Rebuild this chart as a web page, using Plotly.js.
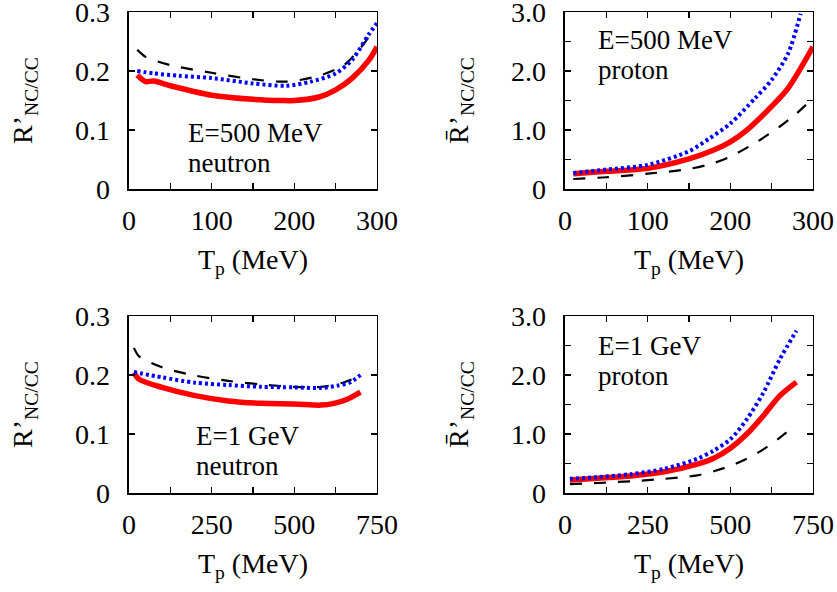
<!DOCTYPE html>
<html>
<head>
<meta charset="utf-8">
<script src="https://cdn.plot.ly/plotly-3.0.1.min.js"></script>
<style>html,body{margin:0;padding:0;background:#fff;}#chart{width:837px;height:592px;}</style>
</head>
<body>
<div id="chart"></div>
<script>
// Panel 1: E=500 MeV neutron
const t1_red = [10, 20, 30, 50, 100, 150, 185, 200, 230, 250, 270, 290, 300];
const r1_red = [0.193, 0.182, 0.183, 0.175, 0.159, 0.152, 0.150, 0.150, 0.156, 0.168, 0.188, 0.218, 0.241];
const t1_blue = [10, 30, 60, 100, 150, 190, 220, 250, 270, 290, 300];
const r1_blue = [0.200, 0.196, 0.192, 0.188, 0.179, 0.175, 0.182, 0.196, 0.219, 0.262, 0.281];
const t1_black = [10, 20, 50, 100, 150, 190, 230, 260, 280, 295];
const r1_black = [0.236, 0.224, 0.210, 0.197, 0.186, 0.182, 0.192, 0.210, 0.239, 0.267];

// Panel 2: E=500 MeV proton
const t2_red = [10, 50, 100, 150, 180, 200, 220, 250, 270, 300];
const r2_red = [0.26, 0.30, 0.35, 0.51, 0.66, 0.80, 1.00, 1.40, 1.71, 2.41];
const t2_blue = [10, 50, 100, 150, 175, 200, 230, 250, 270, 285];
const r2_blue = [0.27, 0.33, 0.41, 0.64, 0.86, 1.11, 1.54, 1.85, 2.30, 2.97];
const t2_black = [10, 50, 100, 150, 180, 200, 230, 260, 280, 300];
const r2_black = [0.17, 0.20, 0.26, 0.34, 0.44, 0.55, 0.78, 1.06, 1.28, 1.54];

// Panel 3: E=1 GeV neutron
const t3_red = [15, 30, 100, 200, 300, 400, 500, 580, 620, 660, 700];
const r3_red = [0.204, 0.193, 0.179, 0.165, 0.156, 0.152, 0.151, 0.149, 0.152, 0.159, 0.171];
const t3_blue = [15, 100, 200, 300, 400, 500, 580, 630, 670, 700];
const r3_blue = [0.205, 0.196, 0.187, 0.183, 0.180, 0.179, 0.178, 0.182, 0.188, 0.200];
const t3_black = [15, 30, 100, 200, 300, 400, 500, 580, 640, 680];
const r3_black = [0.246, 0.232, 0.213, 0.199, 0.190, 0.184, 0.180, 0.180, 0.186, 0.194];

// Panel 4: E=1 GeV proton
const t4_red = [15, 100, 200, 300, 400, 450, 500, 550, 600, 650, 700];
const r4_red = [0.22, 0.25, 0.29, 0.36, 0.49, 0.59, 0.76, 1.00, 1.31, 1.65, 1.88];
const t4_blue = [15, 100, 200, 300, 400, 450, 500, 550, 600, 650, 700];
const r4_blue = [0.24, 0.27, 0.32, 0.41, 0.58, 0.72, 0.91, 1.25, 1.70, 2.27, 2.75];
const t4_black = [15, 100, 200, 300, 400, 450, 500, 550, 600, 650, 675];
const r4_black = [0.15, 0.17, 0.20, 0.24, 0.30, 0.37, 0.46, 0.58, 0.74, 0.94, 1.05];

// Tick labels
const xTickVals500 = [0, 50, 100, 150, 200, 250, 300];
const xTickText500 = ["0", "", "100", "", "200", "", "300"];
const xTickVals1000 = [0, 125, 250, 375, 500, 625, 750];
const xTickText1000 = ["0", "", "250", "", "500", "", "750"];
const yTickValsN = [0, 0.1, 0.2, 0.3];
const yTickTextN = ["0", "0.1", "0.2", "0.3"];
const yTickValsP = [0, 0.5, 1.0, 1.5, 2.0, 2.5, 3.0];
const yTickTextP = ["0", "", "1.0", "", "2.0", "", "3.0"];

const labels = [
  ["E=500 MeV", "neutron"],
  ["E=500 MeV", "proton"],
  ["E=1 GeV", "neutron"],
  ["E=1 GeV", "proton"]
];

const FONT = "Liberation Serif";
const redStyle = {color: "#ff0000", width: 5.5, dash: "solid"};
const blueStyle = {color: "#0000ff", width: 4, dash: "3px,3px"};
const blackStyle = {color: "#000000", width: 2.2, dash: "12px,12px"};

const panels = [
  {xs: [t1_black, t1_red, t1_blue], ys: [r1_black, r1_red, r1_blue], xa: "x", ya: "y"},
  {xs: [t2_black, t2_red, t2_blue], ys: [r2_black, r2_red, r2_blue], xa: "x2", ya: "y2"},
  {xs: [t3_black, t3_red, t3_blue], ys: [r3_black, r3_red, r3_blue], xa: "x3", ya: "y3"},
  {xs: [t4_black, t4_red, t4_blue], ys: [r4_black, r4_red, r4_blue], xa: "x4", ya: "y4"}
];
const styles = [blackStyle, redStyle, blueStyle];

const traces = [];
panels.forEach(p => {
  for (let i = 0; i < 3; i++) {
    traces.push({
      x: p.xs[i], y: p.ys[i], xaxis: p.xa, yaxis: p.ya,
      type: "scatter", mode: "lines",
      line: Object.assign({shape: "spline", smoothing: 0.8}, styles[i]),
      showlegend: false, hoverinfo: "skip"
    });
  }
});

const colL = [0.1541, 0.4504];
const colR = [0.675, 0.9713];
const rowT = [0.6807, 0.9797];
const rowB = [0.1672, 0.4662];

function xaxis(dom, anchor, range, vals, text) {
  return {
    domain: dom, anchor: anchor, range: range,
    tickmode: "array", tickvals: vals, ticktext: text,
    ticks: "inside", ticklen: 6, tickwidth: 1.3, tickcolor: "#000",
    showline: true, linecolor: "#000", linewidth: 1.5, mirror: "allticks",
    showgrid: false, zeroline: false, ticklabeloverflow: "allow",
    ticklabelstandoff: 6,
    tickfont: {family: FONT, size: 28, color: "#000"},
    title: {text: "T<sub>p</sub> (MeV)", font: {family: FONT, size: 28, color: "#000"}, standoff: 14}
  };
}
function yaxis(dom, anchor, range, vals, text, title) {
  return {
    domain: dom, anchor: anchor, range: range,
    tickmode: "array", tickvals: vals, ticktext: text,
    ticks: "inside", ticklen: 6, tickwidth: 1.3, tickcolor: "#000",
    showline: true, linecolor: "#000", linewidth: 1.5, mirror: "allticks",
    showgrid: false, zeroline: false, ticklabeloverflow: "allow",
    ticklabelstandoff: 12,
    tickfont: {family: FONT, size: 28, color: "#000"},
    title: {text: title, font: {family: FONT, size: 28, color: "#000"}, standoff: 34}
  };
}

const titleN = "R\u2019<sub>NC/CC</sub>";
const titleP = "R\u0304\u2019<sub>NC/CC</sub>";

// each label block: left edge and the boundary between its two lines (axis-domain fractions)
const annPos = [
  {xr: "x domain", yr: "y domain", x: 0.238, y: 0.232},
  {xr: "x2 domain", yr: "y2 domain", x: 0.133, y: 0.757},
  {xr: "x3 domain", yr: "y3 domain", x: 0.27, y: 0.237},
  {xr: "x4 domain", yr: "y4 domain", x: 0.133, y: 0.746}
];
const annotations = [];
annPos.forEach((a, i) => {
  for (let k = 0; k < 2; k++) {
    annotations.push({
      xref: a.xr, yref: a.yr, x: a.x, y: a.y,
      xanchor: "left", yanchor: k === 0 ? "bottom" : "top",
      borderpad: 0, borderwidth: 0, showarrow: false,
      text: labels[i][k], font: {family: FONT, size: 27, color: "#000"}
    });
  }
});

const layout = {
  width: 837, height: 592,
  margin: {l: 0, r: 0, t: 0, b: 0},
  paper_bgcolor: "#fff", plot_bgcolor: "#fff",
  showlegend: false,
  xaxis: xaxis(colL, "y", [0, 300], xTickVals500, xTickText500),
  yaxis: yaxis(rowT, "x", [0, 0.3], yTickValsN, yTickTextN, titleN),
  xaxis2: xaxis(colR, "y2", [0, 300], xTickVals500, xTickText500),
  yaxis2: yaxis(rowT, "x2", [0, 3.0], yTickValsP, yTickTextP, titleP),
  xaxis3: xaxis(colL, "y3", [0, 750], xTickVals1000, xTickText1000),
  yaxis3: yaxis(rowB, "x3", [0, 0.3], yTickValsN, yTickTextN, titleN),
  xaxis4: xaxis(colR, "y4", [0, 750], xTickVals1000, xTickText1000),
  yaxis4: yaxis(rowB, "x4", [0, 3.0], yTickValsP, yTickTextP, titleP),
  annotations: annotations
};

Plotly.newPlot("chart", traces, layout, {staticPlot: true, displayModeBar: false});
</script>
</body>
</html>
